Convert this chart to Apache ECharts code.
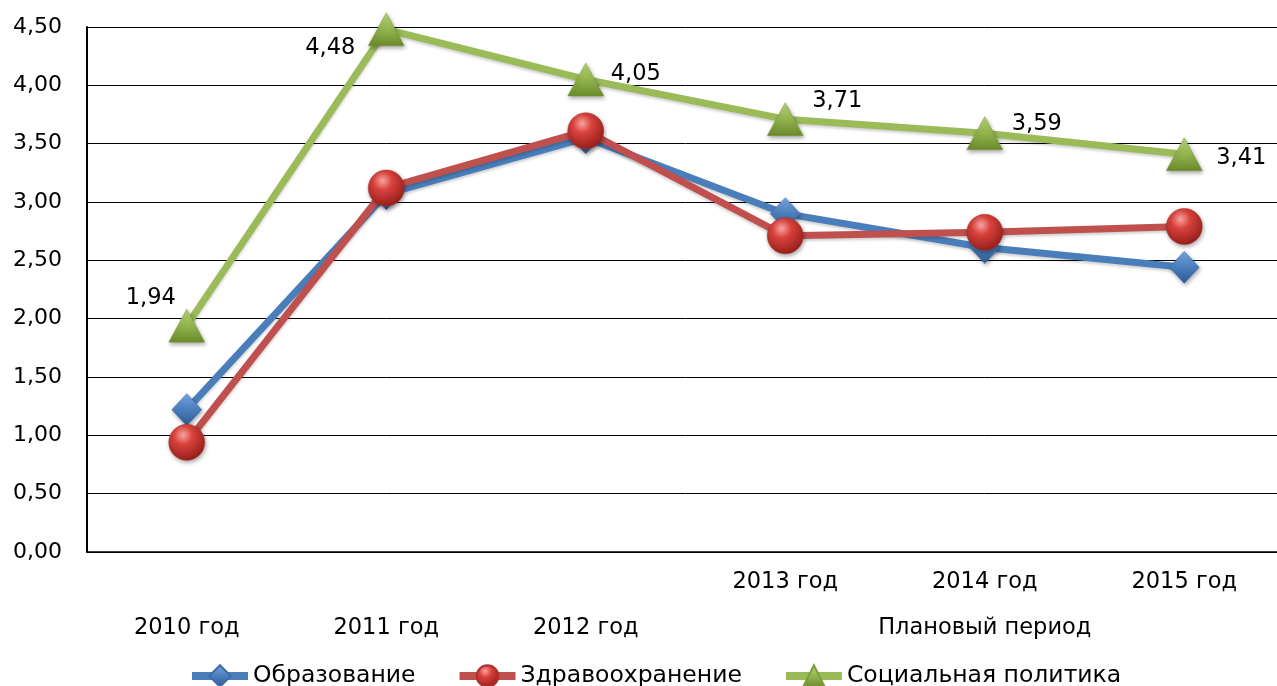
<!DOCTYPE html>
<html>
<head>
<meta charset="utf-8">
<script src="https://cdn.jsdelivr.net/npm/echarts@6/dist/echarts.min.js"></script>
<style>
  html, body { margin: 0; padding: 0; background: #ffffff; overflow: hidden; }
  /* the plot area runs a few pixels past the right edge of the window */
  #chart { width: 1284px; height: 686px; }
</style>
</head>
<body>
<div id="chart"></div>
<script>
// Years; the planned-period caption sits under the middle planned year
const categories = ['2010 год', '2011 год', '2012 год', '2013 год', '2014 год', '2015 год'];
const plannedYears = ['2013 год', '2014 год', '2015 год'];
const plannedCaption = 'Плановый период';

const seriesNames = ['Образование', 'Здравоохранение', 'Социальная политика'];
const education = [1.22, 3.07, 3.55, 2.90, 2.61, 2.44];
const healthcare = [0.94, 3.12, 3.61, 2.71, 2.74, 2.79];
const socialPolicy = [1.94, 4.48, 4.05, 3.71, 3.59, 3.41];

const yTicks = { min: 0, max: 4.5, interval: 0.5 };

// Where each social-policy value label sits relative to its marker
const socialLabelOffsets = [[-36, -28], [-56, 19], [50, -5], [52, -18], [52, -9], [57, 4]];

const FONT = 'DejaVu Sans, Liberation Sans, sans-serif';
const fmt = v => v.toFixed(2).replace('.', ',');

const chart = echarts.init(document.getElementById('chart'));

function markerShadow() {
  return { shadowColor: 'rgba(0,0,0,0.35)', shadowBlur: 4, shadowOffsetX: 1, shadowOffsetY: 2 };
}

chart.setOption({
  backgroundColor: '#ffffff',
  animation: false,
  textStyle: { fontFamily: FONT },
  grid: { left: 87, right: 0, top: 27, bottom: 134 },
  legend: {
    left: 183,
    top: 659,
    itemWidth: 56,
    itemHeight: 27,
    itemGap: 40,
    lineStyle: { width: 8 },
    textStyle: { fontFamily: FONT, fontSize: 23.5, color: '#000' },
    data: seriesNames
  },
  xAxis: {
    type: 'category',
    data: categories,
    boundaryGap: true,
    axisLine: { lineStyle: { color: '#000', width: 1.5 } },
    axisTick: { show: false },
    axisLabel: {
      margin: 7,
      fontSize: 22.5,
      lineHeight: 46,
      color: '#000',
      fontFamily: FONT,
      interval: 0,
      formatter: function (v) {
        if (plannedYears.indexOf(v) < 0) return '\n' + v;
        if (v === plannedYears[1]) return v + '\n' + plannedCaption;
        return v;
      }
    }
  },
  yAxis: {
    type: 'value',
    min: yTicks.min,
    max: yTicks.max,
    interval: yTicks.interval,
    axisLine: { show: true, lineStyle: { color: '#000', width: 2 } },
    axisTick: { show: false },
    splitLine: { lineStyle: { color: '#000', width: 1 } },
    axisLabel: { margin: 25, fontSize: 22, color: '#000', fontFamily: FONT, formatter: fmt }
  },
  series: [
    {
      name: seriesNames[0],
      type: 'line',
      data: education,
      symbol: 'diamond',
      symbolSize: [30, 32],
      lineStyle: { color: '#4a7ebb', width: 7, shadowColor: 'rgba(0,0,0,0.2)', shadowBlur: 3, shadowOffsetY: 2 },
      itemStyle: Object.assign({
        color: new echarts.graphic.LinearGradient(0, 0, 0, 1, [
          { offset: 0, color: '#78a6e0' },
          { offset: 0.5, color: '#4a7ebb' },
          { offset: 1, color: '#2d5a94' }
        ]),
        borderColor: '#3c6ca8',
        borderWidth: 0.5
      }, markerShadow()),
      z: 2
    },
    {
      name: seriesNames[1],
      type: 'line',
      data: healthcare,
      symbol: 'circle',
      symbolSize: 36,
      lineStyle: { color: '#c0504d', width: 7, shadowColor: 'rgba(0,0,0,0.2)', shadowBlur: 3, shadowOffsetY: 2 },
      itemStyle: Object.assign({
        color: new echarts.graphic.RadialGradient(0.4, 0.3, 0.75, [
          { offset: 0, color: '#f7a39f' },
          { offset: 0.35, color: '#d9413b' },
          { offset: 1, color: '#8e1c18' }
        ]),
        borderColor: '#a8332f',
        borderWidth: 0.5
      }, markerShadow()),
      z: 3
    },
    {
      name: seriesNames[2],
      type: 'line',
      data: socialPolicy.map((v, i) => ({
        value: v,
        label: { offset: socialLabelOffsets[i] }
      })),
      symbol: 'triangle',
      symbolSize: [36, 33],
      lineStyle: { color: '#9bbb59', width: 7, shadowColor: 'rgba(0,0,0,0.2)', shadowBlur: 3, shadowOffsetY: 2 },
      itemStyle: Object.assign({
        color: new echarts.graphic.LinearGradient(0, 0, 0, 1, [
          { offset: 0, color: '#b9d678' },
          { offset: 0.55, color: '#8fb04a' },
          { offset: 1, color: '#6b8a2c' }
        ]),
        borderColor: '#7f9d3c',
        borderWidth: 0.5
      }, markerShadow()),
      label: {
        show: true,
        position: 'inside',
        fontSize: 22.5,
        color: '#000',
        fontFamily: FONT,
        formatter: p => fmt(p.value)
      },
      z: 4
    }
  ]
});
</script>
</body>
</html>
